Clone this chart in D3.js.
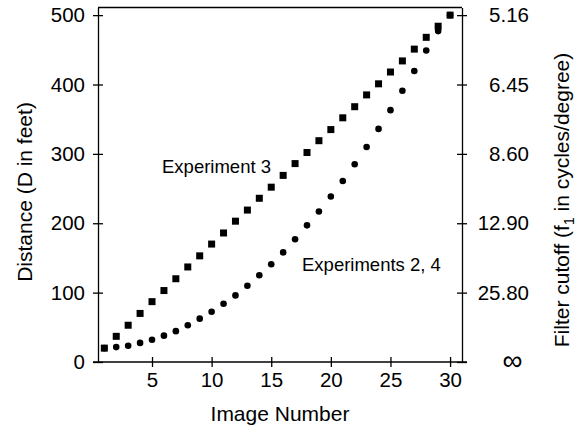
<!DOCTYPE html>
<html>
<head>
<meta charset="utf-8">
<script src="https://d3js.org/d3.v7.min.js"></script>
<style>
  html, body { margin: 0; padding: 0; background: #fff; }
  svg { display: block; font-family: "Liberation Sans", Arial, Helvetica, sans-serif; }
</style>
</head>
<body>
<svg id="chart" width="582" height="427"></svg>
<script>
// ---- data ----
const imageNumbers = d3.range(1, 31);
const experiment3 = [20, 37, 53, 70, 87, 103, 120, 137, 153, 170, 186, 203, 219, 236, 252,
                     269, 286, 302, 319, 335, 352, 368, 385, 401, 418, 434, 451, 468, 484, 500];
const experiments24 = [20, 21.5, 23.5, 27.5, 32, 38, 44.5, 53, 62.5, 72.5, 84, 96, 110, 125, 141,
                       158, 177, 197, 217, 238.5, 261, 285, 310, 336, 363, 391, 419.5, 449, 477, 500];
const xTicks = [5, 10, 15, 20, 25, 30];
const yTicks = [0, 100, 200, 300, 400, 500];
const rightTickLabels = ["\u221E", "25.80", "12.90", "8.60", "6.45", "5.16"];

// ---- layout ----
const svg = d3.select("#chart");
const L = 98, R = 462, T = 7.5, B = 362;
const x = d3.scaleLinear().domain([0.47, 31]).range([L, R]);
const y = d3.scaleLinear().domain([0, 511]).range([B, T]);
const fs = 20.5;

// frame top
svg.append("line").attr("x1", L).attr("x2", R).attr("y1", T).attr("y2", T)
  .attr("stroke", "#000").attr("stroke-width", 1.3);

// left axis
const gl = svg.append("g").attr("transform", `translate(${L},0)`)
  .call(d3.axisLeft(y).tickValues(yTicks).tickSize(5).tickPadding(8).tickSizeOuter(0));
gl.selectAll(".tick line").attr("x1", 5);
gl.selectAll(".tick text").attr("font-size", fs).attr("font-family", null);

// right axis
const gr = svg.append("g").attr("transform", `translate(${R},0)`)
  .call(d3.axisRight(y).tickValues(yTicks).tickSize(5)
    .tickFormat((d, i) => rightTickLabels[i]).tickSizeOuter(0));
gr.selectAll(".tick line").attr("x1", -5);
gr.selectAll(".tick text").attr("font-size", fs).attr("font-family", null)
  .attr("text-anchor", "end").attr("x", 67);
gr.selectAll(".tick text").filter(d => d === 0)
  .attr("text-anchor", "middle").attr("x", 50.5).attr("font-size", 28).attr("dy", "0.28em");

// bottom axis
const gb = svg.append("g").attr("transform", `translate(0,${B})`)
  .call(d3.axisBottom(x).tickValues(xTicks).tickSize(5).tickPadding(5).tickSizeOuter(0));
gb.selectAll(".tick line").attr("y1", -5);
gb.selectAll(".tick text").attr("font-size", fs).attr("font-family", null);

[gl, gr, gb].forEach(g => {
  g.select(".domain").attr("stroke", "#000").attr("stroke-width", 1.3);
  g.selectAll(".tick line").attr("stroke", "#000").attr("stroke-width", 1.3);
  g.selectAll(".tick text").attr("fill", "#000");
});
gb.select(".domain").attr("d", `M${L - 5},0H${R + 5}`);

// markers
svg.append("g").selectAll("circle").data(imageNumbers).join("circle")
  .attr("cx", d => x(d)).attr("cy", (d, i) => y(experiments24[i])).attr("r", 3.3).attr("fill", "#000");
const s = 7;
svg.append("g").selectAll("rect").data(imageNumbers).join("rect")
  .attr("x", d => x(d) - s / 2).attr("y", (d, i) => y(experiment3[i]) - s / 2)
  .attr("width", s).attr("height", s).attr("fill", "#000");

// annotations
svg.append("text").attr("x", 162).attr("y", 172.5).attr("font-size", 18.5).text("Experiment 3");
svg.append("text").attr("x", 302).attr("y", 271).attr("font-size", 18.5).text("Experiments 2, 4");

// axis titles
svg.append("text").attr("x", (L + R) / 2).attr("y", 421).attr("text-anchor", "middle")
  .attr("font-size", 21).text("Image Number");
svg.append("text").attr("transform", "translate(32,192) rotate(-90)").attr("text-anchor", "middle")
  .attr("font-size", 21).text("Distance (D in feet)");
const rt = svg.append("text").attr("transform", "translate(569,200) rotate(-90)").attr("text-anchor", "middle")
  .attr("font-size", 21);
rt.append("tspan").text("Filter cutoff (f");
rt.append("tspan").attr("font-size", 14).attr("dy", 5).text("1");
rt.append("tspan").attr("dy", -5).text(" in cycles/degree)");
</script>
</body>
</html>
